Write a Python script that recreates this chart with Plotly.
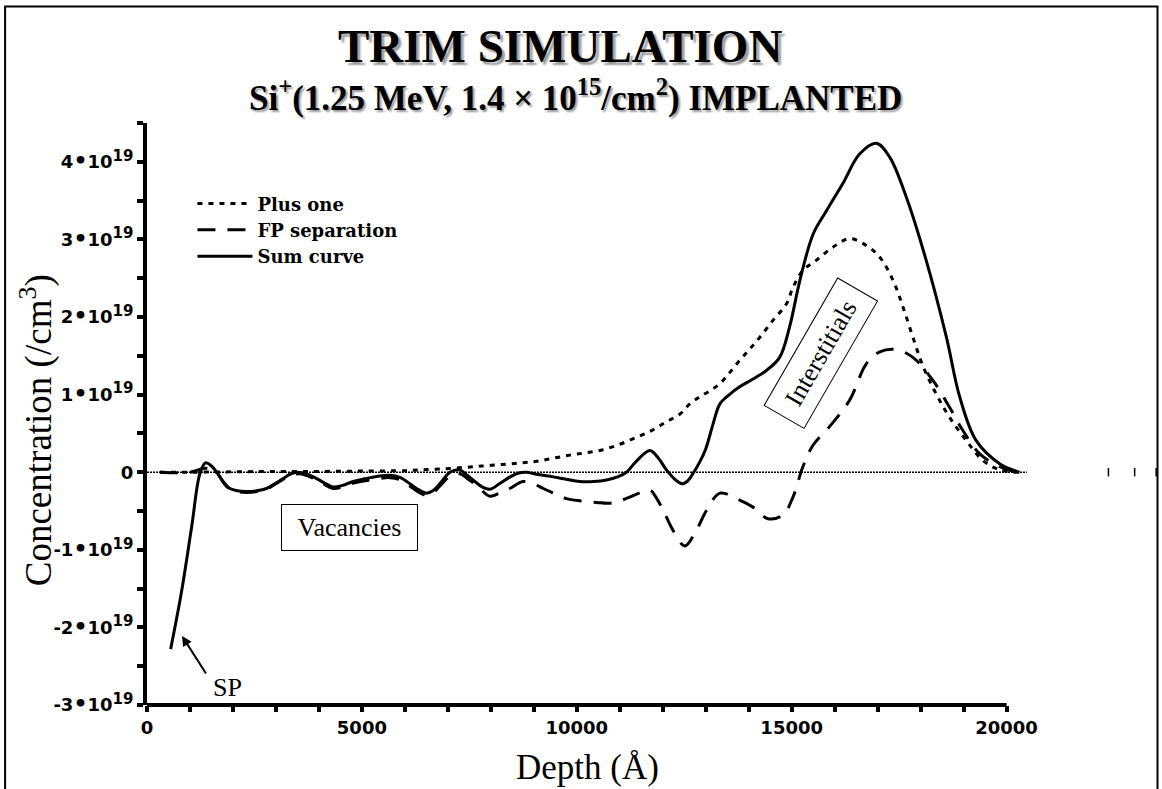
import plotly.graph_objects as go

# ---------------- data ----------------
sum_x = [550, 800, 1040, 1230, 1360, 1500, 1620, 1800, 1930, 2100, 2320, 2550, 2780, 3000,
         3170, 3350, 3520, 3700, 3870, 4100, 4330, 4550, 4800, 5200, 5650, 5900, 6120, 6300,
         6500, 6650, 6810, 7050, 7280, 7450, 7630, 7800, 7980, 8200, 8450, 8650, 8830, 9100,
         9450, 9750, 10070, 10400, 10690, 10950, 11155, 11400, 11700, 11900, 12085, 12300,
         12470, 12600, 12700, 12850, 13000, 13170, 13330, 13550, 13790, 14100, 14410, 14720,
         14950, 15190, 15500, 15810, 16190, 16580, 16970, 17280, 17670, 18130, 18600, 18910,
         19290, 19840, 20300]
sum_y = [-2.28, -1.55, -0.70, -0.02, 0.12, 0.08, 0.0, -0.14, -0.21, -0.24, -0.25, -0.24, -0.21,
         -0.14, -0.08, -0.02, 0.0, -0.02, -0.06, -0.13, -0.19, -0.17, -0.12, -0.07, -0.04, -0.07,
         -0.15, -0.22, -0.27, -0.24, -0.15, 0.0, 0.03, -0.04, -0.12, -0.19, -0.22, -0.15, -0.06,
         -0.01, 0.0, -0.03, -0.06, -0.09, -0.12, -0.12, -0.10, -0.06, 0.0, 0.15, 0.28, 0.18, 0.03,
         -0.10, -0.15, -0.10, -0.02, 0.12, 0.30, 0.62, 0.88, 1.00, 1.10, 1.20, 1.31, 1.48, 1.87,
         2.47, 3.07, 3.37, 3.72, 4.10, 4.24, 4.06, 3.54, 2.73, 1.74, 0.97, 0.41, 0.11, 0.0]

plus_x = [300, 1000, 2000, 3000, 4000, 5000, 6000, 6350, 6800, 7350, 7800, 8280, 8700, 9060,
          9450, 9840, 10200, 10610, 11000, 11390, 11750, 12085, 12400, 12630, 12860, 13100,
          13330, 13550, 13790, 14030, 14260, 14570, 14880, 15030, 15260, 15570, 15960, 16350,
          16740, 17050, 17360, 17590, 17820, 18060, 18360, 18670, 19060, 19450, 19840, 20300]
plus_y = [0.0, 0.0, 0.005, 0.01, 0.01, 0.015, 0.02, 0.03, 0.04, 0.06, 0.08, 0.10, 0.12, 0.14,
          0.18, 0.22, 0.25, 0.29, 0.36, 0.45, 0.54, 0.65, 0.75, 0.88, 0.97, 1.05, 1.14, 1.28,
          1.44, 1.59, 1.74, 1.96, 2.17, 2.38, 2.60, 2.73, 2.90, 3.01, 2.92, 2.77, 2.47, 2.13,
          1.74, 1.36, 1.01, 0.71, 0.41, 0.15, 0.03, 0.0]

fp_x = [300, 1000, 1360, 1620, 1800, 1930, 2100, 2320, 2550, 2780, 3000, 3170, 3350, 3520,
        3700, 3870, 4100, 4330, 4550, 4800, 5200, 5650, 5900, 6120, 6300, 6500, 6650, 6810,
        7050, 7280, 7450, 7670, 7980, 8200, 8440, 8750, 9000, 9220, 9500, 9760, 10100, 10460,
        10770, 11000, 11230, 11450, 11700, 11850, 12010, 12240, 12510, 12780, 13020, 13330,
        13710, 14100, 14450, 14800, 15030, 15260, 15500, 15900, 16350, 16740, 17050, 17430,
        17820, 18290, 18670, 18980, 19370, 19840, 20230]
fp_y = [0.0, 0.0, 0.05, -0.01, -0.15, -0.22, -0.25, -0.26, -0.25, -0.22, -0.15, -0.09, -0.04,
        -0.02, -0.04, -0.08, -0.15, -0.21, -0.19, -0.14, -0.10, -0.07, -0.10, -0.18, -0.25,
        -0.30, -0.27, -0.18, -0.05, -0.02, -0.08, -0.17, -0.31, -0.27, -0.21, -0.12, -0.15,
        -0.21, -0.28, -0.34, -0.37, -0.39, -0.40, -0.37, -0.32, -0.27, -0.23, -0.33, -0.49,
        -0.75, -0.95, -0.75, -0.49, -0.27, -0.34, -0.45, -0.60, -0.55, -0.32, 0.07, 0.35, 0.60,
        0.93, 1.40, 1.55, 1.58, 1.48, 1.18, 0.84, 0.54, 0.24, 0.07, 0.0]

zero_x = [0, 20470]
zero_y = [0, 0]
stray_x = [22370, 22980, 23480]
stray_y = [0, 0, 0]

scale = 1e19
x_tickvals = [0, 5000, 10000, 15000, 20000]
x_ticktext = ["0", "5000", "10000", "15000", "20000"]
y_ticks = [-3, -2, -1, 0, 1, 2, 3, 4]
y_mant = ["-3", "-2", "-1", "0", "1", "2", "3", "4"]
y_ticktext = [m if m == "0" else
              m + "<span style='font-size:22px'>•</span>10"
              "<sup><span style='font-size:15px'>19</span></sup>" for m in y_mant]

# ---------------- figure ----------------
fig = go.Figure()

fig.add_trace(go.Scatter(x=zero_x, y=[v * scale for v in zero_y], mode="lines",
                         line=dict(color="black", width=1.5, dash="2px,1px"),
                         showlegend=False, hoverinfo="skip"))
fig.add_trace(go.Scatter(x=stray_x, y=stray_y, mode="markers", cliponaxis=False,
                         marker=dict(symbol="line-ns", size=6,
                                     line=dict(color="black", width=1.5)),
                         showlegend=False, hoverinfo="skip"))
fig.add_trace(go.Scatter(x=plus_x, y=[v * scale for v in plus_y], mode="lines",
                         name="Plus one", line_shape="spline",
                         line=dict(color="black", width=3, dash="5px,6px")))
fig.add_trace(go.Scatter(x=fp_x, y=[v * scale for v in fp_y], mode="lines",
                         name="FP separation", line_shape="spline",
                         line=dict(color="black", width=3, dash="18px,12px")))
fig.add_trace(go.Scatter(x=sum_x, y=[v * scale for v in sum_y], mode="lines",
                         name="Sum curve", line_shape="spline",
                         line=dict(color="black", width=3)))

tick_font = dict(family="DejaVu Sans", size=18, color="black", weight="bold")

fig.update_xaxes(range=[0, 23500], showline=False, showgrid=False, zeroline=False,
                 tickmode="array", tickvals=x_tickvals, ticktext=x_ticktext,
                 ticks="outside", ticklen=6, tickwidth=4, tickcolor="black",
                 tickfont=tick_font,
                 minor=dict(tickmode="array", tickvals=list(range(1000, 20000, 1000)),
                            ticks="outside", ticklen=6, tickwidth=4, tickcolor="black"))
fig.update_yaxes(range=[-3 * scale, 4.5 * scale], showline=True, linewidth=4,
                 linecolor="black", showgrid=False, zeroline=False,
                 tickmode="array", tickvals=[v * scale for v in y_ticks], ticktext=y_ticktext,
                 ticks="outside", ticklen=6, tickwidth=4, tickcolor="black",
                 tickfont=tick_font,
                 minor=dict(dtick=0.5 * scale, tick0=0, ticks="outside", ticklen=6,
                            tickwidth=4, tickcolor="black"))

serif = "Liberation Serif"
annotations = [
    dict(text="<b>TRIM SIMULATION</b>", xref="paper", yref="paper", x=0.4087, y=1.133,
         showarrow=False, xanchor="center", yanchor="middle",
         font=dict(family=serif, size=47, color="black", shadow="3px 3px 2px #9a9a9a")),
    dict(text="<b>Si<sup>+</sup>(1.25 MeV, 1.4 × 10<sup>15</sup>/cm<sup>2</sup>) IMPLANTED</b>",
         xref="paper", yref="paper", x=0.4245, y=1.0472, showarrow=False,
         xanchor="center", yanchor="middle",
         font=dict(family=serif, size=35, color="black", shadow="2px 2px 2px #9a9a9a")),
    dict(text="Concentration (/cm<sup>3</sup>)", xref="paper", yref="paper",
         x=-0.1089, y=0.4721, textangle=-90, showarrow=False,
         xanchor="center", yanchor="middle", font=dict(family=serif, size=37, color="black")),
    dict(text="Depth (Å)", xref="paper", yref="paper", x=0.4364, y=-0.1082,
         showarrow=False, xanchor="center", yanchor="middle",
         font=dict(family=serif, size=35, color="black")),
    dict(text="Vacancies", x=4721, y=-0.715 * scale, showarrow=False,
         bordercolor="black", borderwidth=1, borderpad=8, width=119,
         font=dict(family=serif, size=26, color="black")),
    dict(text="Interstitials", x=15674, y=1.53 * scale, showarrow=False, textangle=-60,
         bordercolor="black", borderwidth=1, borderpad=8, width=130,
         font=dict(family=serif, size=26, color="black")),
    dict(text="", x=814, y=-2.11 * scale, ax=25, ay=39, showarrow=True,
         arrowhead=2, arrowsize=1, arrowwidth=2, arrowcolor="black",
         font=dict(size=1)),
    dict(text="SP", x=1880, y=-2.77 * scale, showarrow=False,
         xanchor="center", yanchor="middle",
         font=dict(family=serif, size=26, color="black")),
]

shapes = [
    dict(type="line", xref="x", yref="paper", x0=0, x1=20000, y0=0, y1=0,
         line=dict(color="black", width=4)),
    dict(type="rect", xref="paper", yref="paper", x0=-0.1405, x1=1.0005, y0=-0.163, y1=1.2,
         line=dict(color="black", width=2), fillcolor="rgba(0,0,0,0)", layer="above"),
]

fig.update_layout(
    width=1162, height=789,
    margin=dict(l=147, r=4.5, t=122.5, b=84),
    paper_bgcolor="white", plot_bgcolor="white",
    showlegend=True,
    legend=dict(x=0.045, y=0.893, xanchor="left", yanchor="top",
                bgcolor="rgba(0,0,0,0)", borderwidth=0, itemwidth=55,
                tracegroupgap=0,
                font=dict(family="DejaVu Serif", size=18, color="black", weight="bold")),
    annotations=annotations,
    shapes=shapes,
)

fig.write_html("out.html")
